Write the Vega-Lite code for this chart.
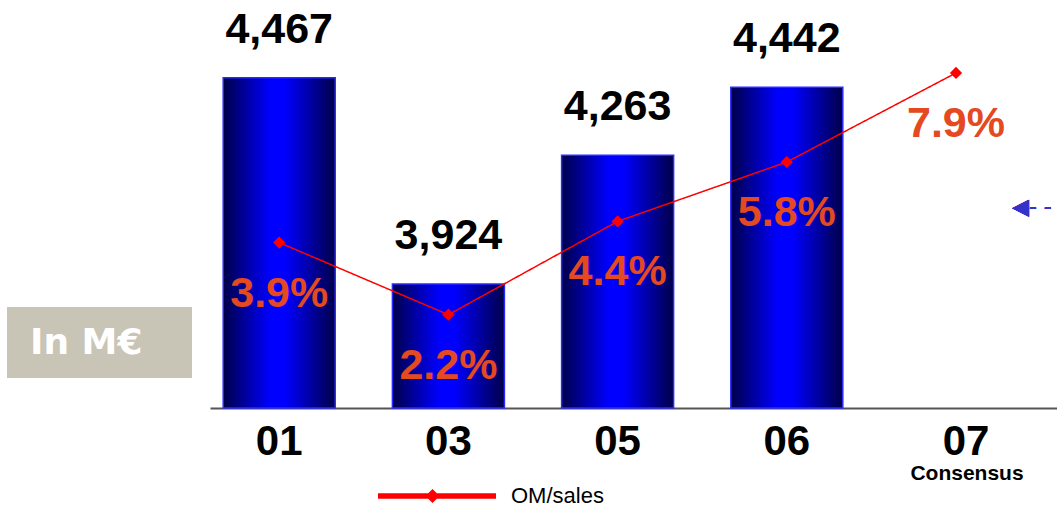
{
  "$schema": "https://vega.github.io/schema/vega-lite/v6.json",
  "width": 847,
  "height": 408,
  "padding": {"left": 210, "top": 0, "right": 0, "bottom": 99},
  "autosize": {"type": "none"},
  "background": "white",
  "config": {"view": {"stroke": null}, "font": "Liberation Sans"},
  "data": {"values": [
    {"year": "01", "sales": 4467, "om": 0.039},
    {"year": "03", "sales": 3924, "om": 0.022},
    {"year": "05", "sales": 4263, "om": 0.044},
    {"year": "06", "sales": 4442, "om": 0.058},
    {"year": "07", "sales": null, "om": 0.079}
  ]},
  "encoding": {
    "x": {"field": "year", "type": "nominal", "scale": {"paddingInner": 0.338, "paddingOuter": 0.172, "align": 0.227}, "axis": null}
  },
  "layer": [
    {
      "transform": [{"filter": "datum.sales != null"}],
      "mark": {"type": "bar", "stroke": "#2a2aff", "strokeWidth": 1.5,
        "fill": {"gradient": "linear", "x1": 0, "x2": 1, "y1": 0, "y2": 0,
          "stops": [{"offset": 0, "color": "#00004a"}, {"offset": 0.42, "color": "#0000ff"}, {"offset": 0.55, "color": "#0000ff"}, {"offset": 1, "color": "#00004a"}]}},
      "encoding": {
        "x": {"field": "year", "type": "nominal", "axis": {"orient": "bottom", "title": null, "domain": true, "domainColor": "#555555", "domainWidth": 2, "ticks": false, "grid": false, "labelAngle": 0, "labelFont": "Liberation Sans", "labelFontWeight": "bold", "labelFontSize": 42, "labelColor": "black", "labelPadding": 13, "labelOffset": {"condition": {"test": "datum.value == '07'", "value": 10}, "value": 0}}},
        "y": {"field": "sales", "type": "quantitative", "scale": {"domain": [3597, 4672], "nice": false, "zero": false}, "axis": null},
        "y2": {"datum": 3597}
      }
    },
    {
      "transform": [{"filter": "datum.sales != null"}],
      "mark": {"type": "text", "font": "Liberation Sans", "fontWeight": "bold", "fontSize": 43, "color": "black", "baseline": "alphabetic", "dy": -35},
      "encoding": {
        "y": {"field": "sales", "type": "quantitative", "scale": {"domain": [3597, 4672], "nice": false, "zero": false}, "axis": null},
        "text": {"field": "sales", "type": "quantitative", "format": ","}
      }
    },
    {
      "mark": {"type": "line", "strokeWidth": 1.5, "point": {"filled": true, "shape": "diamond", "size": 150}},
      "encoding": {
        "y": {"field": "om", "type": "quantitative", "scale": {"domain": [0, 0.0962], "nice": false, "zero": false}, "axis": null},
        "color": {"datum": "OM/sales", "type": "nominal", "scale": {"range": ["#ff0000"]},
          "legend": {"orient": "none", "legendX": 168, "legendY": 437, "title": null, "padding": 0,
            "symbolType": "M-1,-0.045H1V0.045H-1Z M-0.196,0L-0.076,-0.12L0.044,0L-0.076,0.12Z", "symbolSize": 13924,
            "symbolFillColor": "#cc0000", "symbolStrokeWidth": 0, "labelFontSize": 22, "labelFont": "Liberation Sans", "labelColor": "black", "labelOffset": 15,
            "encode": {"symbols": {"update": {"fill": {"value": "#cc0000"}, "fillOpacity": {"value": 1}, "stroke": {"value": "transparent"}, "strokeWidth": {"value": 0}, "opacity": {"value": 1}}}}}},
        "strokeDash": {"datum": "In M€", "type": "nominal", "scale": {"range": [[1, 0]]},
          "legend": {"orient": "none", "legendX": -203, "legendY": 250, "title": null, "padding": 0,
            "symbolType": "M-1,-0.384H1V0.384H-1Z", "symbolSize": 34225, "symbolFillColor": "#c8c4b6", "symbolStrokeWidth": 0,
            "labelOffset": -162, "labelFont": "DejaVu Sans", "labelFontWeight": "bold", "labelFontSize": 36, "labelColor": "white",
            "encode": {"symbols": {"update": {"fill": {"value": "#c8c4b6"}, "fillOpacity": {"value": 1}, "stroke": {"value": "transparent"}, "opacity": {"value": 1}}}}}}
      }
    },
    {
      "mark": {"type": "text", "font": "Liberation Sans", "fontWeight": "bold", "fontSize": 43, "color": "#e4491f", "baseline": "alphabetic", "dy": 64},
      "encoding": {
        "x": {"field": "year", "type": "nominal", "axis": {"orient": "bottom", "title": null, "domain": false, "ticks": false, "grid": false, "labelAngle": 0, "labelExpr": "datum.value == '07' ? 'Consensus' : ''", "labelFont": "Liberation Sans", "labelFontWeight": "bold", "labelFontSize": 21, "labelColor": "black", "labelPadding": 54, "labelOffset": 11}},
        "y": {"field": "om", "type": "quantitative", "scale": {"domain": [0, 0.0962], "nice": false, "zero": false}, "axis": null},
        "text": {"field": "om", "type": "quantitative", "format": ".1%"}
      }
    },
    {
      "mark": {"type": "text", "font": "DejaVu Sans", "fontSize": 22, "color": "#3333cc", "align": "left", "baseline": "middle", "text": "◀- -"},
      "encoding": {
        "x": {"datum": "07", "type": "nominal", "bandPosition": 1, "axis": null},
        "y": {"datum": 0.0474, "type": "quantitative", "scale": {"domain": [0, 0.0962], "nice": false, "zero": false}, "axis": null}
      }
    }
  ],
  "resolve": {"scale": {"y": "independent"}, "axis": {"x": "independent"}}
}
